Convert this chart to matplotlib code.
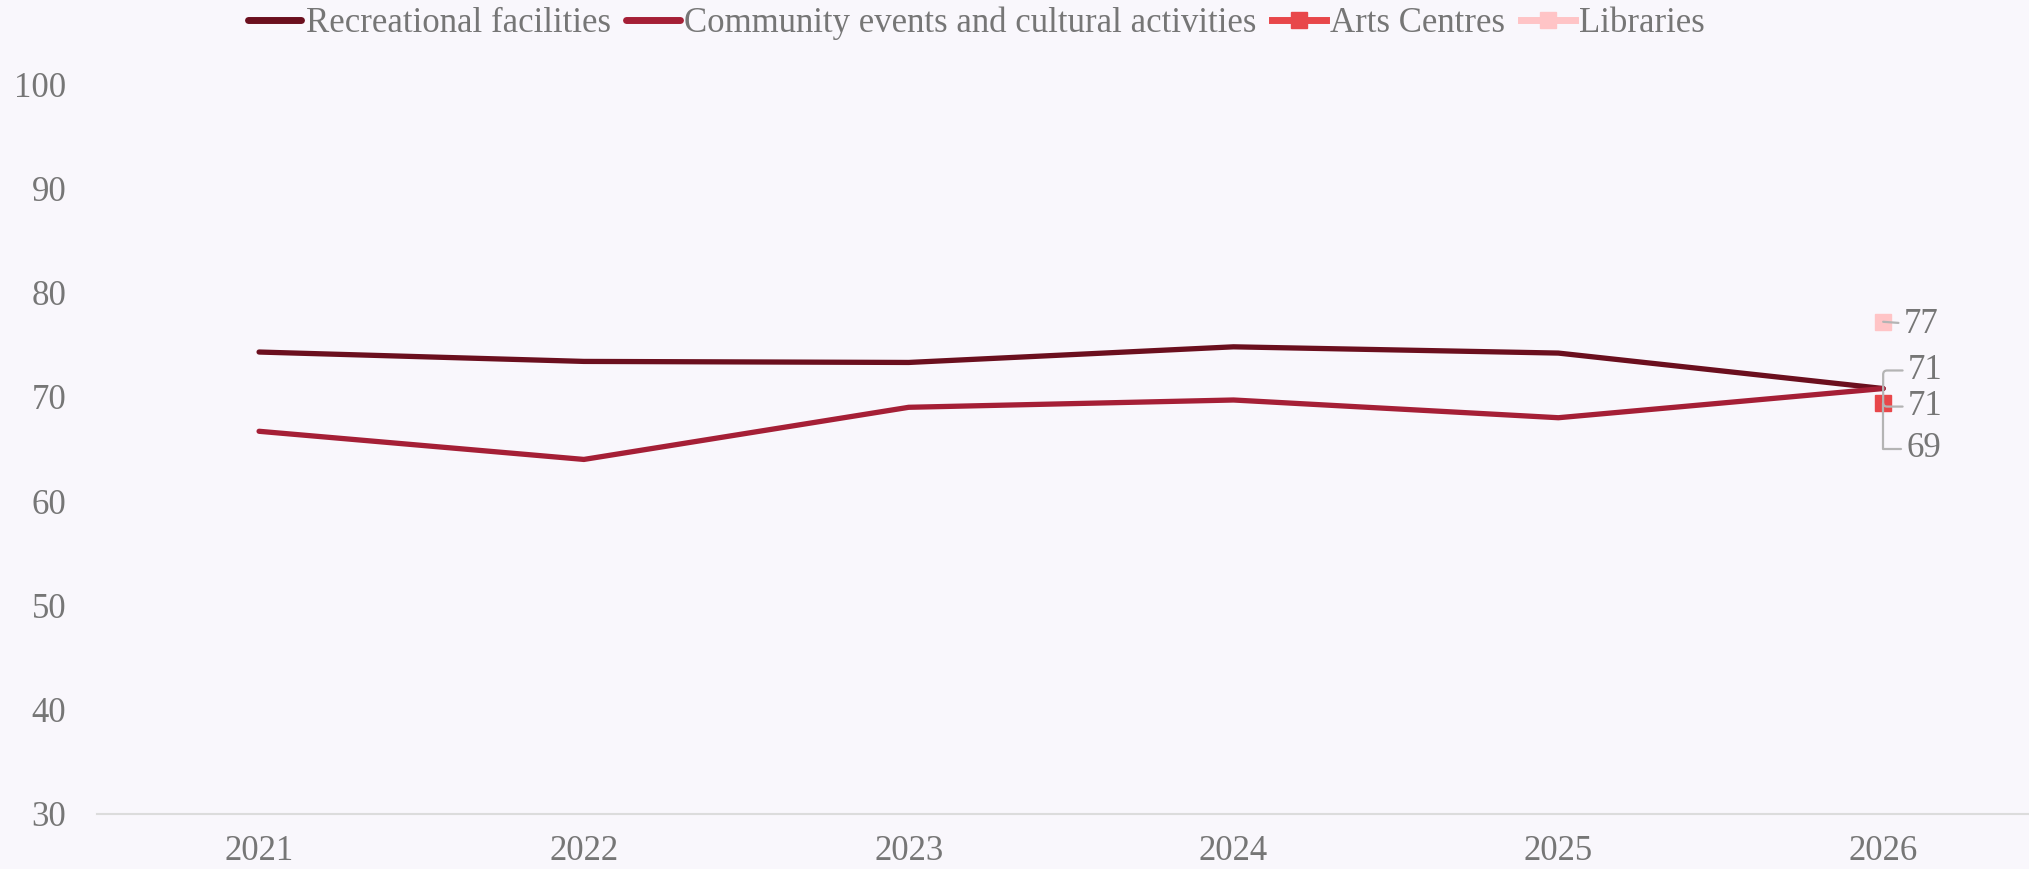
import matplotlib.pyplot as plt

years = [2021, 2022, 2023, 2024, 2025, 2026]
recreational = [74.3, 73.4, 73.3, 74.8, 74.2, 70.8]
community = [66.7, 64.0, 69.0, 69.7, 68.0, 70.8]
arts_years = [2026]
arts = [69.4]
library_years = [2026]
libraries = [77.2]

y_ticks = [30, 40, 50, 60, 70, 80, 90, 100]

bg = "#F9F7FC"
text_col = "#767676"
leader_col = "#B4B4B4"

plt.rcParams['font.family'] = ['Liberation Serif', 'DejaVu Serif']

fig = plt.figure(figsize=(20.29, 8.69), dpi=100, facecolor=bg)
ax = fig.add_axes([0.0478, 0.0633, 0.9522, 0.84])
ax.set_facecolor(bg)

ax.plot(years, recreational, color="#6B0F1E", lw=3.8,
        label="Recreational facilities", solid_capstyle='round')
ax.plot(years, community, color="#A51F36", lw=3.8,
        label="Community events and cultural activities", solid_capstyle='round')
ax.plot(arts_years, arts, color="#E8474A", lw=3.8, marker='s', ms=11,
        label="Arts Centres")
ax.plot(library_years, libraries, color="#FFC4C6", lw=3.8, marker='s', ms=11,
        label="Libraries")

ax.set_xlim(2020.501, 2026.449)
ax.set_ylim(30, 100)
ax.set_xticks(years)
ax.set_yticks(y_ticks)
ax.tick_params(length=0, labelsize=25, labelcolor=text_col)
ax.tick_params(axis='y', pad=22)
ax.tick_params(axis='x', pad=15)
for s in ['top', 'right', 'left']:
    ax.spines[s].set_visible(False)
ax.spines['bottom'].set_color("#DCDCDC")
ax.spines['bottom'].set_linewidth(1.5)

# value labels at the last year with leader lines
def tag(val, x, y, dx, dy, conn):
    ax.annotate(f"{round(val)}", xy=(x, y), xytext=(dx, dy),
                textcoords='offset points', ha='left', va='center',
                fontsize=25, color=text_col,
                arrowprops=dict(arrowstyle='-', color=leader_col, lw=1.6,
                                shrinkA=2, shrinkB=0, connectionstyle=conn))

tag(libraries[-1], library_years[-1], libraries[-1], 15, -2, "arc3")
tag(recreational[-1], years[-1], recreational[-1], 18, 13,
    "angle,angleA=0,angleB=90,rad=4")
tag(community[-1], years[-1], community[-1], 18, -13,
    "angle,angleA=0,angleB=90,rad=4")
tag(arts[-1], arts_years[-1], arts[-1], 17, -33,
    "angle,angleA=0,angleB=90,rad=0")

leg = ax.legend(loc='center', bbox_to_anchor=(0.455, 1.083), ncol=4,
                frameon=False, fontsize=25, labelcolor=text_col,
                handlelength=1.55, handletextpad=0.12, columnspacing=0.45,
                borderaxespad=0)
for h in leg.legend_handles:
    h.set_linewidth(5)

fig.savefig("out.png", dpi=100, facecolor=bg)
